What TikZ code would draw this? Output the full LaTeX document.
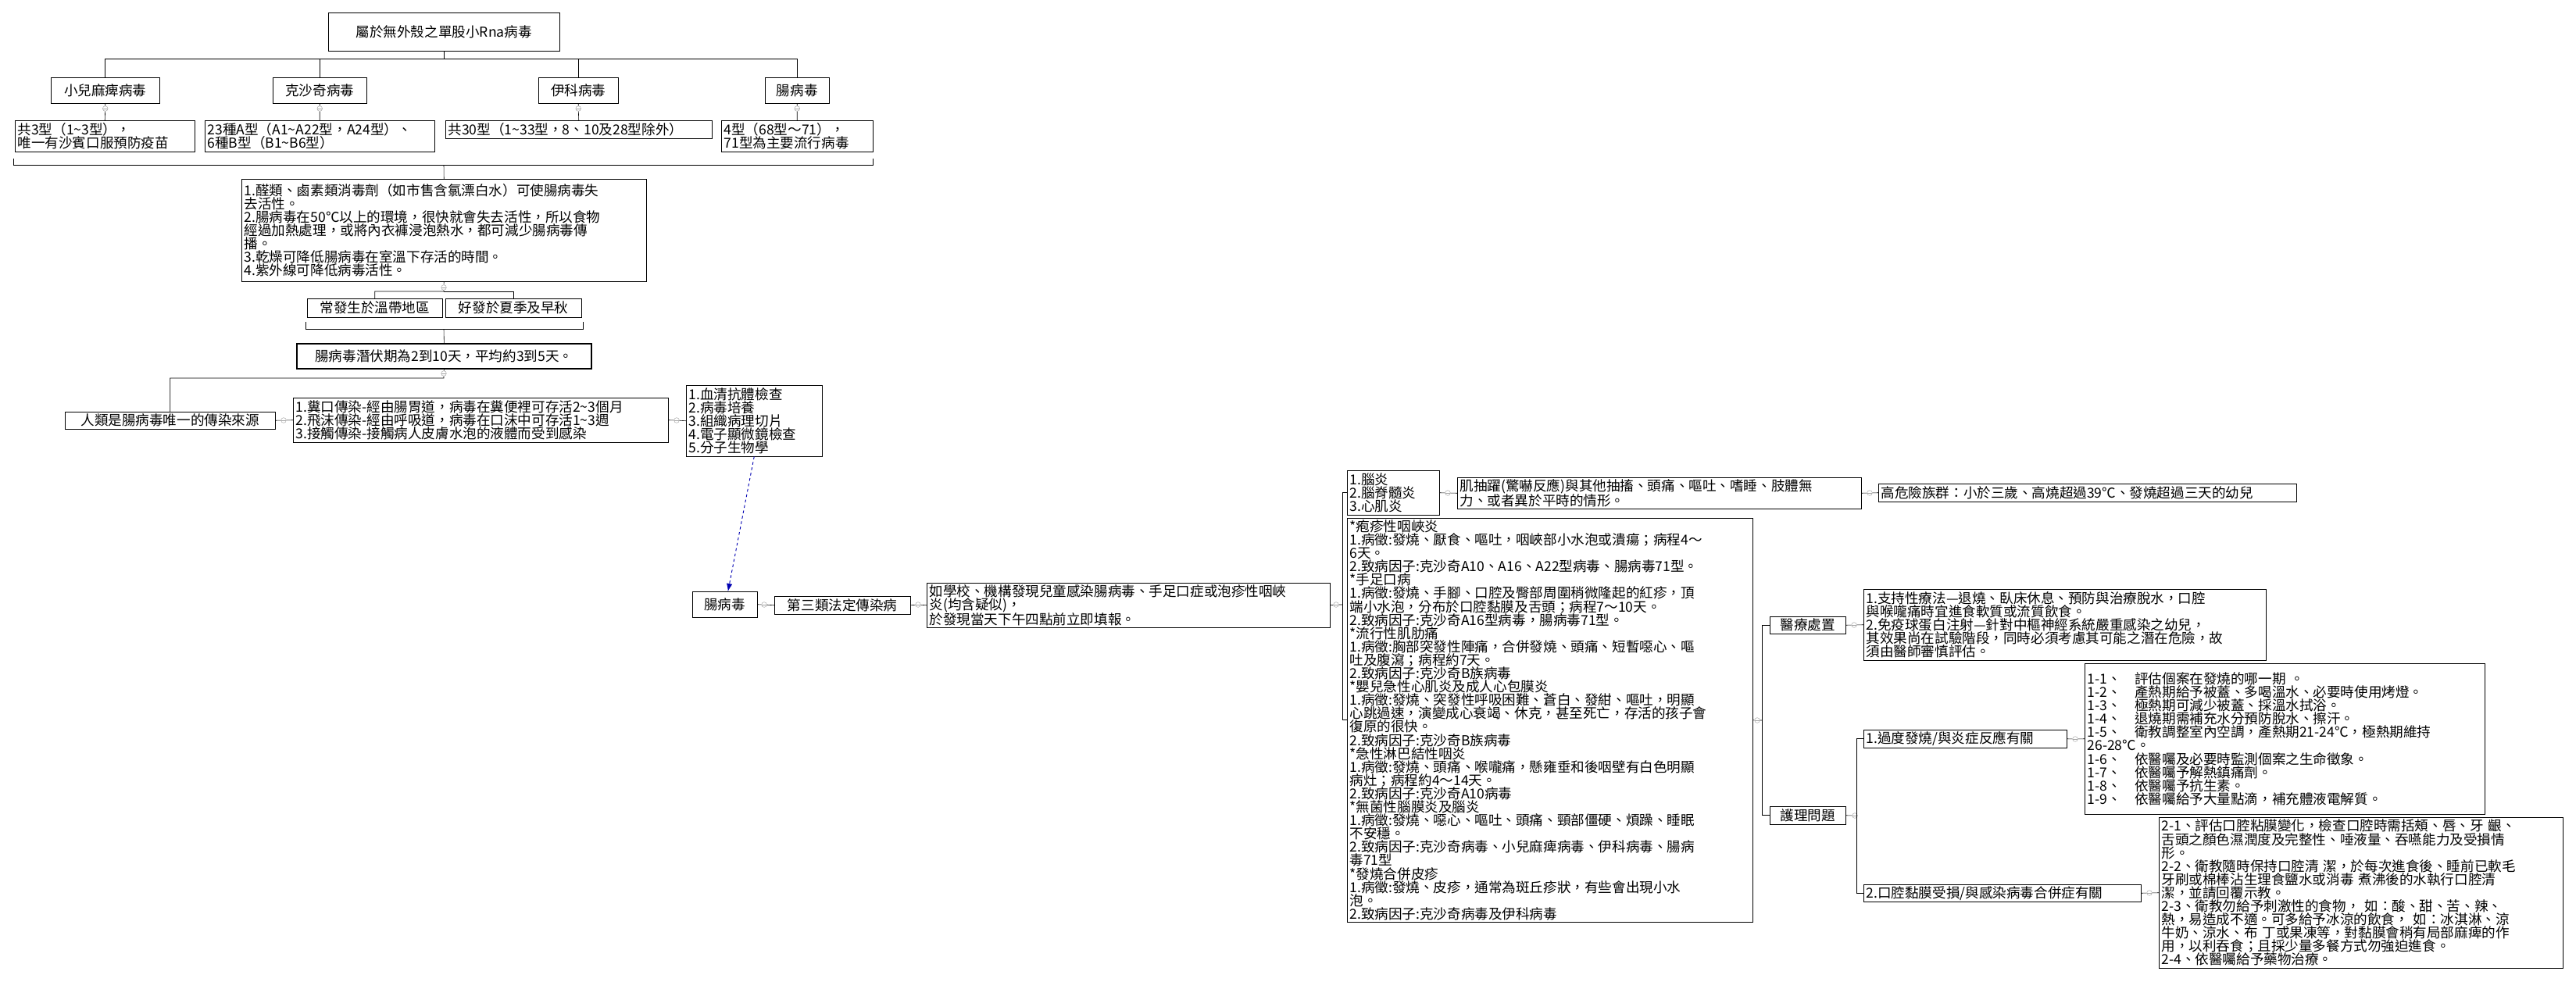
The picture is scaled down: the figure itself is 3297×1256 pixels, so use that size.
\documentclass[tikz,border=0pt]{standalone}
\usepackage{fontspec}
\setmainfont{Noto Sans CJK TC}
\usetikzlibrary{arrows.meta, positioning}

\begin{document}
\begin{tikzpicture}[
  x=0.3mm, y=-0.3mm,
  box/.style={
    draw,
    anchor=north west,
    align=left,
    font=\fontsize{15}{14.6}\selectfont,
    inner xsep=1mm,
    inner ysep=0.5mm
  },
  cbox/.style={box, align=center},
  knob/.style={circle, draw=gray!70, fill=white, minimum size=2mm, inner sep=0pt,
    path picture={\draw[gray!70] (path picture bounding box.west) -- (path picture bounding box.east);}},
  link/.style={draw, line width=0.5pt},
  jump/.style={-{Latex[length=3mm]}, dashed, thick, blue!70!black}
]
\useasboundingbox (0,0) rectangle (3297,1256);

% Virus family tree
\node[cbox, text width=86.8mm, minimum height=14.7mm] (root) at (420,16) {屬於無外殼之單股小Rna病毒};
\node[cbox, text width=39.7mm, minimum height=9.9mm] (polio) at (65,99) {小兒麻痺病毒};
\node[cbox, text width=34mm, minimum height=9.9mm] (coxs) at (349,99) {克沙奇病毒};
\node[cbox, text width=28.6mm, minimum height=9.9mm] (echo) at (689,99) {伊科病毒};
\node[cbox, text width=22.6mm, minimum height=9.9mm] (entero) at (979,99) {腸病毒};

\node[box, text width=67mm, minimum height=12mm] (polioT) at (19,154) {共3型（1\textasciitilde3型），\\唯一有沙賓口服預防疫苗};
\node[box, text width=86.2mm, minimum height=12mm] (coxsT) at (262,154) {23種A型（A1\textasciitilde A22型，A24型）、\\6種B型（B1\textasciitilde B6型）};
\node[box, text width=100.3mm, minimum height=6.9mm] (echoT) at (570,154) {共30型（1\textasciitilde33型，8、10及28型除外）};
\node[box, text width=56.2mm, minimum height=12mm] (enteroT) at (923,154) {4型（68型～71），\\71型為主要流行病毒};

% Properties
\node[box, text width=153.4mm, minimum height=39.3mm] (kill) at (309,229) {1.醛類、鹵素類消毒劑（如市售含氯漂白水）可使腸病毒失\\去活性。\\2.腸病毒在50℃以上的環境，很快就會失去活性，所以食物\\經過加熱處理，或將內衣褲浸泡熱水，都可減少腸病毒傳\\播。\\3.乾燥可降低腸病毒在室溫下存活的時間。\\4.紫外線可降低病毒活性。};
\node[cbox, text width=49.9mm, minimum height=7.2mm] (zone) at (393,382) {常發生於溫帶地區};
\node[cbox, text width=50.2mm, minimum height=7.2mm] (season) at (570,382) {好發於夏季及早秋};
\node[cbox, text width=111.1mm, minimum height=9.6mm, line width=1.5pt] (incub) at (379,439) {腸病毒潛伏期為2到10天，平均約3到5天。};

% Transmission and diagnosis
\node[cbox, text width=78.7mm, minimum height=6.6mm] (human) at (83,527) {人類是腸病毒唯一的傳染來源};
\node[box, text width=142mm, minimum height=17.1mm] (route) at (375,509) {1.糞口傳染-經由腸胃道，病毒在糞便裡可存活2\textasciitilde3個月\\2.飛沫傳染-經由呼吸道，病毒在口沫中可存活1\textasciitilde3週\\3.接觸傳染-接觸病人皮膚水泡的液體而受到感染};
\node[box, text width=50.2mm, minimum height=27.3mm] (diag) at (878,493) {1.血清抗體檢查\\2.病毒培養\\3.組織病理切片\\4.電子顯微鏡檢查\\5.分子生物學};

% Clinical branch
\node[cbox, text width=22.9mm, minimum height=9.9mm] (ev) at (886,757) {腸病毒};
\node[cbox, text width=50.2mm, minimum height=6.9mm] (notif) at (991,763) {第三類法定傳染病};
\node[box, text width=152.8mm, minimum height=17.1mm] (report) at (1186,746) {如學校、機構發現兒童感染腸病毒、手足口症或泡疹性咽峽\\炎(均含疑似)，\\於發現當天下午四點前立即填報。};
\node[box, text width=33.4mm, minimum height=17.1mm] (brain) at (1724,602) {1.腦炎\\2.腦脊髓炎\\3.心肌炎};
\node[box, text width=153.1mm, minimum height=12mm] (sign) at (1865,611) {肌抽躍(驚嚇反應)與其他抽搐、頭痛、嘔吐、嗜睡、肢體無\\力、或者異於平時的情形。};
\node[box, text width=158.5mm, minimum height=6.9mm] (risk) at (2404,619) {高危險族群：小於三歲、高燒超過39℃、發燒超過三天的幼兒};
\node[box, text width=153.7mm, minimum height=155.1mm] (types) at (1724,663) {*疱疹性咽峽炎\\1.病徵:發燒、厭食、嘔吐，咽峽部小水泡或潰瘍；病程4～\\6天。\\2.致病因子:克沙奇A10、A16、A22型病毒、腸病毒71型。\\{}*手足口病\\1.病徵:發燒、手腳、口腔及臀部周圍稍微隆起的紅疹，頂\\端小水泡，分布於口腔黏膜及舌頭；病程7～10天。\\2.致病因子:克沙奇A16型病毒，腸病毒71型。\\{}*流行性肌肋痛\\1.病徵:胸部突發性陣痛，合併發燒、頭痛、短暫噁心、嘔\\吐及腹瀉；病程約7天。\\2.致病因子:克沙奇B族病毒\\{}*嬰兒急性心肌炎及成人心包膜炎\\1.病徵:發燒、突發性呼吸困難、蒼白、發紺、嘔吐，明顯\\心跳過速，演變成心衰竭、休克，甚至死亡，存活的孩子會\\復原的很快。\\2.致病因子:克沙奇B族病毒\\{}*急性淋巴結性咽炎\\1.病徵:發燒、頭痛、喉嚨痛，懸雍垂和後咽壁有白色明顯\\病灶；病程約4～14天。\\2.致病因子:克沙奇A10病毒\\{}*無菌性腦膜炎及腦炎\\1.病徵:發燒、噁心、嘔吐、頭痛、頸部僵硬、煩躁、睡眠\\不安穩。\\2.致病因子:克沙奇病毒、小兒麻痺病毒、伊科病毒、腸病\\毒71型\\{}*發燒合併皮疹\\1.病徵:發燒、皮疹，通常為斑丘疹狀，有些會出現小水\\泡。\\2.致病因子:克沙奇病毒及伊科病毒};

% Care
\node[cbox, text width=27.1mm, minimum height=6.6mm] (treat) at (2265,789) {醫療處置};
\node[box, text width=152.5mm, minimum height=27.3mm] (support) at (2385,754) {1.支持性療法---退燒、臥床休息、預防與治療脫水，口腔\\與喉嚨痛時宜進食軟質或流質飲食。\\2.免疫球蛋白注射---針對中樞神經系統嚴重感染之幼兒，\\其效果尚在試驗階段，同時必須考慮其可能之潛在危險，故\\須由醫師審慎評估。};
\node[cbox, text width=27.1mm, minimum height=6.9mm] (nurse) at (2265,1032) {護理問題};
\node[box, text width=76mm, minimum height=6.9mm] (fever) at (2385,934) {1.過度發燒/與炎症反應有關};
\node[box, text width=151.6mm, minimum height=57.9mm] (feverT) at (2668,849) {1-1、\quad 評估個案在發燒的哪一期 。\\1-2、\quad 產熱期給予被蓋、多喝溫水、必要時使用烤燈。\\1-3、\quad 極熱期可減少被蓋、採溫水拭浴。\\1-4、\quad 退燒期需補充水分預防脫水、擦汗。\\1-5、\quad 衛教調整室內空調，產熱期21-24℃，極熱期維持\\26-28℃。\\1-6、\quad 依醫囑及必要時監測個案之生命徵象。\\1-7、\quad 依醫囑予解熱鎮痛劑。\\1-8、\quad 依醫囑予抗生素。\\1-9、\quad 依醫囑給予大量點滴，補充體液電解質。};
\node[box, text width=104.5mm, minimum height=6.6mm] (mouth) at (2385,1132) {2.口腔黏膜受損/與感染病毒合併症有關};
\node[box, text width=153.1mm, minimum height=57.9mm] (mouthT) at (2763,1046) {2-1、評估口腔粘膜變化，檢查口腔時需括頰、唇、牙 齦、\\舌頭之顏色濕潤度及完整性、唾液量、吞嚥能力及受損情\\形。\\2-2、衛教隨時保持口腔清 潔，於每次進食後、睡前已軟毛\\牙刷或棉棒沾生理食鹽水或消毒 煮沸後的水執行口腔清\\潔，並請回覆示教。\\2-3、衛教勿給予刺激性的食物， 如：酸、甜、苦、辣、\\熱，易造成不適。可多給予冰涼的飲食， 如：冰淇淋、涼\\牛奶、涼水、布 丁或果凍等，對黏膜會稍有局部麻痺的作\\用，以利吞食；且採少量多餐方式勿強迫進食。\\2-4、依醫囑給予藥物治療。};

% Knobs
\node[knob] (kp) at (polio.south |- 0,139) {};
\node[knob] (kc) at (coxs.south |- 0,139) {};
\node[knob] (ke) at (echo.south |- 0,139) {};
\node[knob] (kn) at (entero.south |- 0,139) {};
\node[knob] (kk) at (568,368) {};
\node[knob] (ki) at (568,478) {};
\node[knob] (kh) at (363,538) {};
\node[knob] (kr) at (866,538) {};
\node[knob] (kv) at (978,774) {};
\node[knob] (kt) at (1175,774) {};
\node[knob] (kx) at (1710,774) {};
\node[knob] (kb) at (1853,631) {};
\node[knob] (ks) at (2393,631) {};
\node[knob] (kd) at (2249,922) {};
\node[knob] (km) at (2373,800) {};
\node[knob] (kq) at (2374,1044) {};
\node[knob] (kf) at (2656,946) {};
\node[knob] (ko) at (2751,1143) {};

% Connectors
\draw[link] (root.south) -- ++(0,10) -| (polio.north);
\draw[link] (root.south) ++(0,10) -| (coxs.north);
\draw[link] (root.south) ++(0,10) -| (echo.north);
\draw[link] (root.south) ++(0,10) -| (entero.north);
\foreach \a/\k/\b in {polio/kp/polioT, coxs/kc/coxsT, echo/ke/echoT, entero/kn/enteroT}
  \draw[link] (\a.south) -- (\k) -- (\b.north);
\draw[thick] (17,203) -- (17,211) -- (1117,211) -- (1117,203);
\draw[link] (568,211) -- (kill.north);
\draw[link] (kill.south) -- (kk) -- ++(0,5) -| (zone.north);
\draw[link] (kk) ++(0,5) -| (season.north);
\draw[thick] (391,412) -- (391,421) -- (746,421) -- (746,412);
\draw[link] (568,421) -- (incub.north);
\draw[link] (incub.south) -- (ki) -- ++(0,6) -| (human.north);
\draw[link] (human.east) -- (kh) -- (route.west);
\draw[link] (route.east) -- (kr) -- (diag.west);
\draw[jump] (diag.south) -- ([xshift=1.2mm]ev.north);
\draw[link] (ev.east) -- (kv) -- (notif.west);
\draw[link] (notif.east) -- (kt) -- (report.west);
\draw[link] (report.east) -- (kx) -- (1718,774);
\draw[link] (brain.west) -- ++(-6,0) |- (types.west);
\draw[link] (brain.east) -- (kb) -- (sign.west);
\draw[link] (sign.east) -- (ks) -- (risk.west);
\draw[link] (types.east) -- (kd) -- (2255,922);
\draw[link] (treat.west) -- ++(-10,0) |- (nurse.west);
\draw[link] (treat.east) -- (km) -- (support.west);
\draw[link] (nurse.east) -- (kq);
\draw[link] (fever.west) -- ++(-9,0) |- (mouth.west);
\draw[link] (fever.east) -- (kf) -- (feverT.west);
\draw[link] (mouth.east) -- (ko) -- (mouthT.west);
\end{tikzpicture}
\end{document}
